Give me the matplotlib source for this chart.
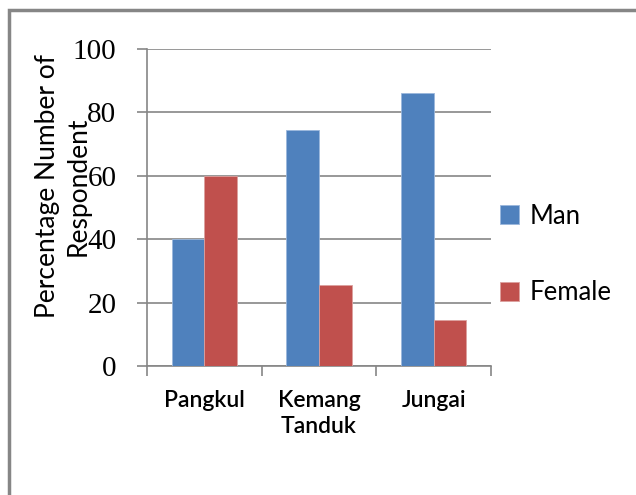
import numpy as np
import matplotlib.pyplot as plt
from matplotlib.patches import Rectangle

villages = ["Pangkul", "Kemang\nTanduk", "Jungai"]
man = [40, 74.5, 86]
female = [60, 25.5, 14.5]
yticks = [0, 20, 40, 60, 80, 100]

blue = "#4f81bd"
red = "#c0504d"
gray = "#868686"

fig = plt.figure(figsize=(6.36, 4.95), dpi=100)
# outer frame of the chart box (right/bottom edges are off the picture)
fig.patches.append(Rectangle((9 / 636, -0.1), 1.2, 1 - 10 / 495 + 0.1,
                             transform=fig.transFigure, fill=False,
                             edgecolor=gray, linewidth=2.5))

ax = fig.add_axes([147 / 636, 1 - 366 / 495, 344 / 636, 317 / 495])

x = np.arange(len(villages))
w = 1 / 3.5
ax.bar(x - w / 2, man, w, color=blue, label="Man", zorder=3,
       edgecolor="#9bb7dc", linewidth=0.6)
ax.bar(x + w / 2, female, w, color=red, label="Female", zorder=3,
       edgecolor="#dca09e", linewidth=0.6)

ax.set_xlim(-0.5, 2.5)
ax.set_ylim(0, 100)
ax.set_yticks(yticks)
ax.set_yticklabels([str(v) for v in yticks], family="Liberation Serif", fontsize=21)
ax.yaxis.grid(True, color=gray, linewidth=1.2, zorder=0)

ax.set_xticks([-0.5, 0.5, 1.5, 2.5])
ax.set_xticklabels([])
ax.set_xticks(x, minor=True)
ax.set_xticklabels(villages, minor=True, family="Lato", fontsize=16.5,
                   fontweight="semibold", linespacing=1.3)
ax.tick_params(axis="x", which="minor", length=0, pad=17)
ax.tick_params(axis="x", which="major", length=7, color=gray, width=1.2)
ax.tick_params(axis="y", length=7, color=gray, width=1.2, pad=15)

for side in ["top", "right"]:
    ax.spines[side].set_visible(False)
for side in ["left", "bottom"]:
    ax.spines[side].set_color(gray)
    ax.spines[side].set_linewidth(1.2)

fig.text(63 / 636, 1 - 186 / 495, "Percentage Number of\nRespondent",
         family="Lato", fontsize=19, linespacing=1.3, rotation=90,
         ha="center", va="center", multialignment="center")

leg = ax.legend(loc="center left", bbox_to_anchor=(1.026, 0.352), frameon=False,
                prop={"family": "Lato", "size": 18.5}, handlelength=0.75,
                handleheight=0.75, handletextpad=0.4, labelspacing=2.0,
                borderaxespad=0, borderpad=0)

fig.savefig("out.png", dpi=100)
